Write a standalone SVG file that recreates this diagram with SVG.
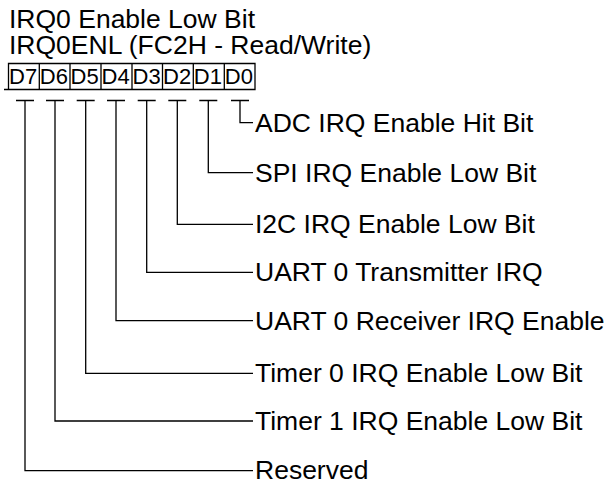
<svg xmlns="http://www.w3.org/2000/svg" width="605" height="483" viewBox="0 0 605 483">
<style>
text{font-family:"Liberation Sans",Arial,sans-serif;fill:#000}
.t{font-size:26.5px}
.c{font-size:22px}
.ln{stroke:#000;stroke-width:1.3;fill:none}
</style>
<rect width="605" height="483" fill="#fff"/>
<g id="title">
<text class="t" x="9" y="28">IRQ0 Enable Low Bit</text>
<text class="t" x="9" y="54">IRQ0ENL (FC2H - Read/Write)</text>
</g>
<g id="register">
<path class="ln" d="M8.5 63.5H255V89.5H8.5ZM4 89.5H8.5M39.3 63.5V89.5M70 63.5V89.5M101 63.5V89.5M132 63.5V89.5M162.5 63.5V89.5M193.3 63.5V89.5M224.3 63.5V89.5"/>
<text class="c" x="9" y="83.5">D7</text>
<text class="c" x="39.8" y="83.5">D6</text>
<text class="c" x="70.5" y="83.5">D5</text>
<text class="c" x="101.5" y="83.5">D4</text>
<text class="c" x="132.5" y="83.5">D3</text>
<text class="c" x="163" y="83.5">D2</text>
<text class="c" x="193.8" y="83.5">D1</text>
<text class="c" x="224.8" y="83.5">D0</text>
</g>
<g id="connectors" class="ln">
<path d="M231 100.5H249M240 100.5V122.7H253"/>
<path d="M199.3 100.5H217.3M208.3 100.5V172.7H253"/>
<path d="M168.3 100.5H186.3M177.3 100.5V224.3H253"/>
<path d="M137.7 100.5H155.7M146.7 100.5V272.3H253"/>
<path d="M107 100.5H125M116 100.5V320.7H253"/>
<path d="M76.7 100.5H94.7M85.7 100.5V373.3H253"/>
<path d="M46 100.5H64M55 100.5V421H253"/>
<path d="M16 100.5H34M25 100.5V470.7H253"/>
</g>
<g id="label-d0"><text class="t" x="255" y="131.5">ADC IRQ Enable Hit Bit</text></g>
<g id="label-d1"><text class="t" x="255" y="181.5">SPI IRQ Enable Low Bit</text></g>
<g id="label-d2"><text class="t" x="255" y="233">I2C IRQ Enable Low Bit</text></g>
<g id="label-d3"><text class="t" x="255" y="281">UART 0 Transmitter IRQ</text></g>
<g id="label-d4"><text class="t" x="255" y="329.5">UART 0 Receiver IRQ Enable</text></g>
<g id="label-d5"><text class="t" x="255" y="382">Timer 0 IRQ Enable Low Bit</text></g>
<g id="label-d6"><text class="t" x="255" y="430">Timer 1 IRQ Enable Low Bit</text></g>
<g id="label-d7"><text class="t" x="255" y="478.5">Reserved</text></g>
</svg>
